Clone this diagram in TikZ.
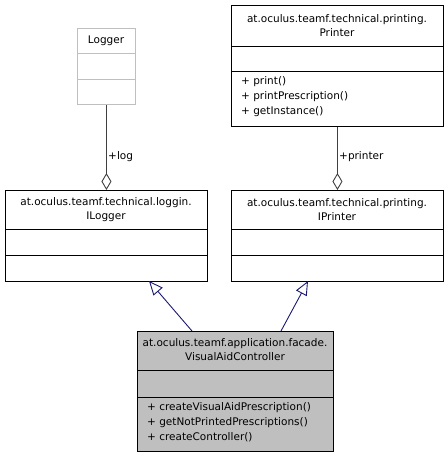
\documentclass[tikz,border=0pt]{standalone}
\usepackage{fontspec}
\setmainfont{DejaVu Sans}
\usetikzlibrary{arrows.meta}
\definecolor{navyline}{HTML}{191970}
\definecolor{aggline}{HTML}{404040}
\definecolor{ghostline}{HTML}{BFBFBF}
\definecolor{activefill}{HTML}{BFBFBF}
\begin{document}
\begin{tikzpicture}[x=1pt,y=-1pt,
  classbox/.style={draw=black, line width=0.9pt, anchor=north west, inner sep=0pt},
  ghostbox/.style={classbox, draw=ghostline},
  activebox/.style={classbox, fill=activefill},
  divider/.style={line width=0.9pt},
  txt/.style={font=\fontsize{10.5}{14}\selectfont, inner sep=0pt},
  title/.style={txt, align=center},
  ops/.style={txt, align=left, anchor=north west, font=\fontsize{10.5}{15}\selectfont},
  aggregation/.style={aggline, line width=0.9pt, {Diamond[open, length=17pt, width=10pt]}-},
  generalization/.style={navyline, line width=0.9pt, -{Triangle[open, length=14pt, width=12pt]}},
  rolelabel/.style={txt, anchor=west}
]
\useasboundingbox (0,0) rectangle (447,457);

% Logger
\node[ghostbox, minimum width=58, minimum height=76] (logger) at (77,28) {};
\node[title] (logger-name) at (106,41) {Logger};
\draw[divider, ghostline] (77,53) -- (135,53) (77,79) -- (135,79);

% at.oculus.teamf.technical.printing.Printer
\node[classbox, minimum width=212, minimum height=121] (printer) at (231,5) {};
\node[title] (printer-name) at (337,26) {at.oculus.teamf.technical.printing.\\Printer};
\draw[divider] (231,46) -- (443,46) (231,71) -- (443,71);
\node[ops] (printer-ops) at (241,76) {+ print()\\+ printPrescription()\\+ getInstance()};

% at.oculus.teamf.technical.loggin.ILogger
\node[classbox, minimum width=202, minimum height=91] (ilogger) at (5,190) {};
\node[title] (ilogger-name) at (106,210) {at.oculus.teamf.technical.loggin.\\ILogger};
\draw[divider] (5,229) -- (207,229) (5,255) -- (207,255);

% at.oculus.teamf.technical.printing.IPrinter
\node[classbox, minimum width=212, minimum height=91] (iprinter) at (231,190) {};
\node[title] (iprinter-name) at (337,210) {at.oculus.teamf.technical.printing.\\IPrinter};
\draw[divider] (231,229) -- (443,229) (231,255) -- (443,255);

% at.oculus.teamf.application.facade.VisualAidController
\node[activebox, minimum width=196, minimum height=120] (vac) at (137,331) {};
\node[title] (vac-name) at (235,350) {at.oculus.teamf.application.facade.\\VisualAidController};
\draw[divider] (137,370) -- (333,370) (137,397) -- (333,397);
\node[ops] (vac-ops) at (147,402) {+ createVisualAidPrescription()\\+ getNotPrintedPrescriptions()\\+ createController()};

% aggregations
\draw[aggregation] (ilogger.north) -- (logger.south);
\node[rolelabel] (log-role) at (108,157) {+log};
\draw[aggregation] (iprinter.north) -- (printer.south);
\node[rolelabel] (printer-role) at (339,157) {+printer};

% generalizations
\coordinate (vac-left) at (192,331);
\coordinate (ilogger-base) at (149,281);
\coordinate (vac-right) at (281,331);
\coordinate (iprinter-base) at (308,281);
\draw[generalization] (vac-left) -- (ilogger-base);
\draw[generalization] (vac-right) -- (iprinter-base);
\end{tikzpicture}
\end{document}
